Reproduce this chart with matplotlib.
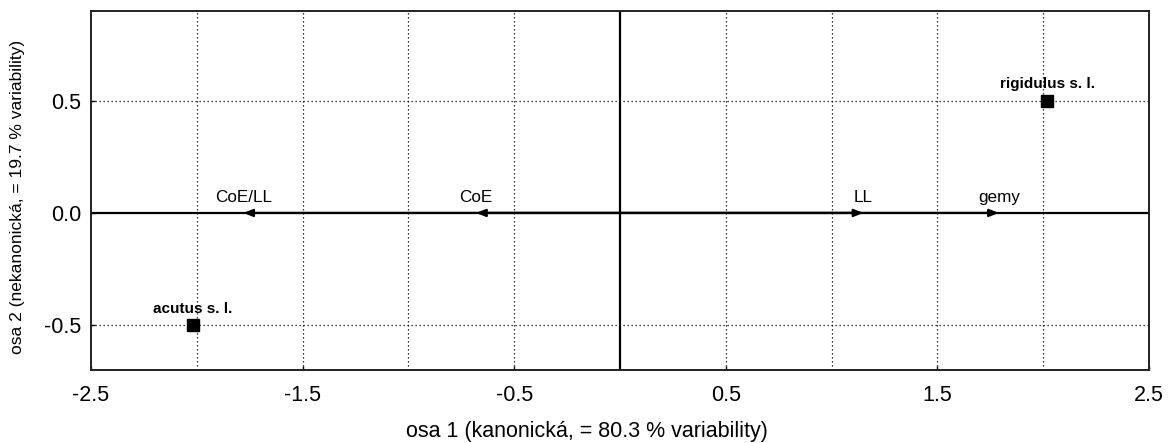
import matplotlib
matplotlib.use("Agg")
import matplotlib.pyplot as plt

plt.rcParams['font.family'] = ['Liberation Sans', 'DejaVu Sans']

# Group centroids on the canonical axes
groups = ["acutus s. l.", "rigidulus s. l."]
group_x = [-2.02, 2.02]
group_y = [-0.5, 0.5]

# Variable vectors (structure coefficients on axis 1)
variables = ["CoE/LL", "CoE", "LL", "gemy"]
var_x = [-1.78, -0.68, 1.15, 1.79]
var_y = [0.0, 0.0, 0.0, 0.0]

xtick_labels = [-2.5, -1.5, -0.5, 0.5, 1.5, 2.5]
xgrid = [-2.0, -1.5, -1.0, -0.5, 0.5, 1.0, 1.5, 2.0]
ytick_labels = [-0.5, 0.0, 0.5]
ygrid = [-0.5, 0.5]

W, H = 1171, 443
fig = plt.figure(figsize=(W / 100, H / 100), dpi=100)
L, R, T, B = 91, 1149, 11, 370
ax = fig.add_axes([L / W, 1 - B / H, (R - L) / W, (B - T) / H])

ax.set_xlim(-2.5, 2.5)
ax.set_ylim(-0.7, 0.9)

dot = (0, (1, 2.2))
for gx in xgrid:
    ax.axvline(gx, color='black', lw=0.9, ls=dot, zorder=1)
for gy in ygrid:
    ax.axhline(gy, color='black', lw=0.9, ls=dot, zorder=1)
ax.axvline(0, color='black', lw=1.6, zorder=2)
ax.axhline(0, color='black', lw=1.6, zorder=2)

# Vectors from the origin with small arrowheads
for name, vx, vy in zip(variables, var_x, var_y):
    ax.annotate("", xy=(vx, vy), xytext=(0, 0),
                arrowprops=dict(arrowstyle="-|>,head_length=0.55,head_width=0.22",
                                color='black', lw=1.6, shrinkA=0, shrinkB=0),
                zorder=3)
    ax.annotate(name, xy=(vx, vy), xytext=(0, 8), textcoords='offset points',
                ha='center', va='baseline', fontsize=12.3)

ax.plot(group_x, group_y, ls='none', marker='s', ms=8.5, color='black', zorder=4)
for name, gx, gy in zip(groups, group_x, group_y):
    ax.annotate(name, xy=(gx, gy), xytext=(0, 9), textcoords='offset points',
                ha='center', va='baseline', fontsize=11, fontweight='bold')

ax.set_xticks(xtick_labels)
ax.set_xticklabels([f"{v:.1f}" for v in xtick_labels])
ax.set_yticks(ytick_labels)
ax.set_yticklabels([f"{v:.1f}" for v in ytick_labels])
ax.tick_params(axis='x', direction='in', length=3, width=1, pad=11, labelsize=15.5)
ax.tick_params(axis='y', direction='in', length=3, width=1, pad=7, labelsize=15.5)

for s in ax.spines.values():
    s.set_linewidth(1.4)
    s.set_color('#222222')

ax.set_xlabel("osa 1 (kanonická, = 80.3 % variability)", fontsize=15.5)
ax.xaxis.label.set_va('center')
ax.xaxis.set_label_coords((587 - L) / (R - L), (B - 432) / (B - T))
ax.set_ylabel("osa 2 (nekanonická, = 19.7 % variability)", fontsize=12.5)
ax.yaxis.label.set_va('center')
ax.yaxis.set_label_coords((18 - L) / (R - L), (B - 197) / (B - T))

fig.savefig("out.png", dpi=100)
